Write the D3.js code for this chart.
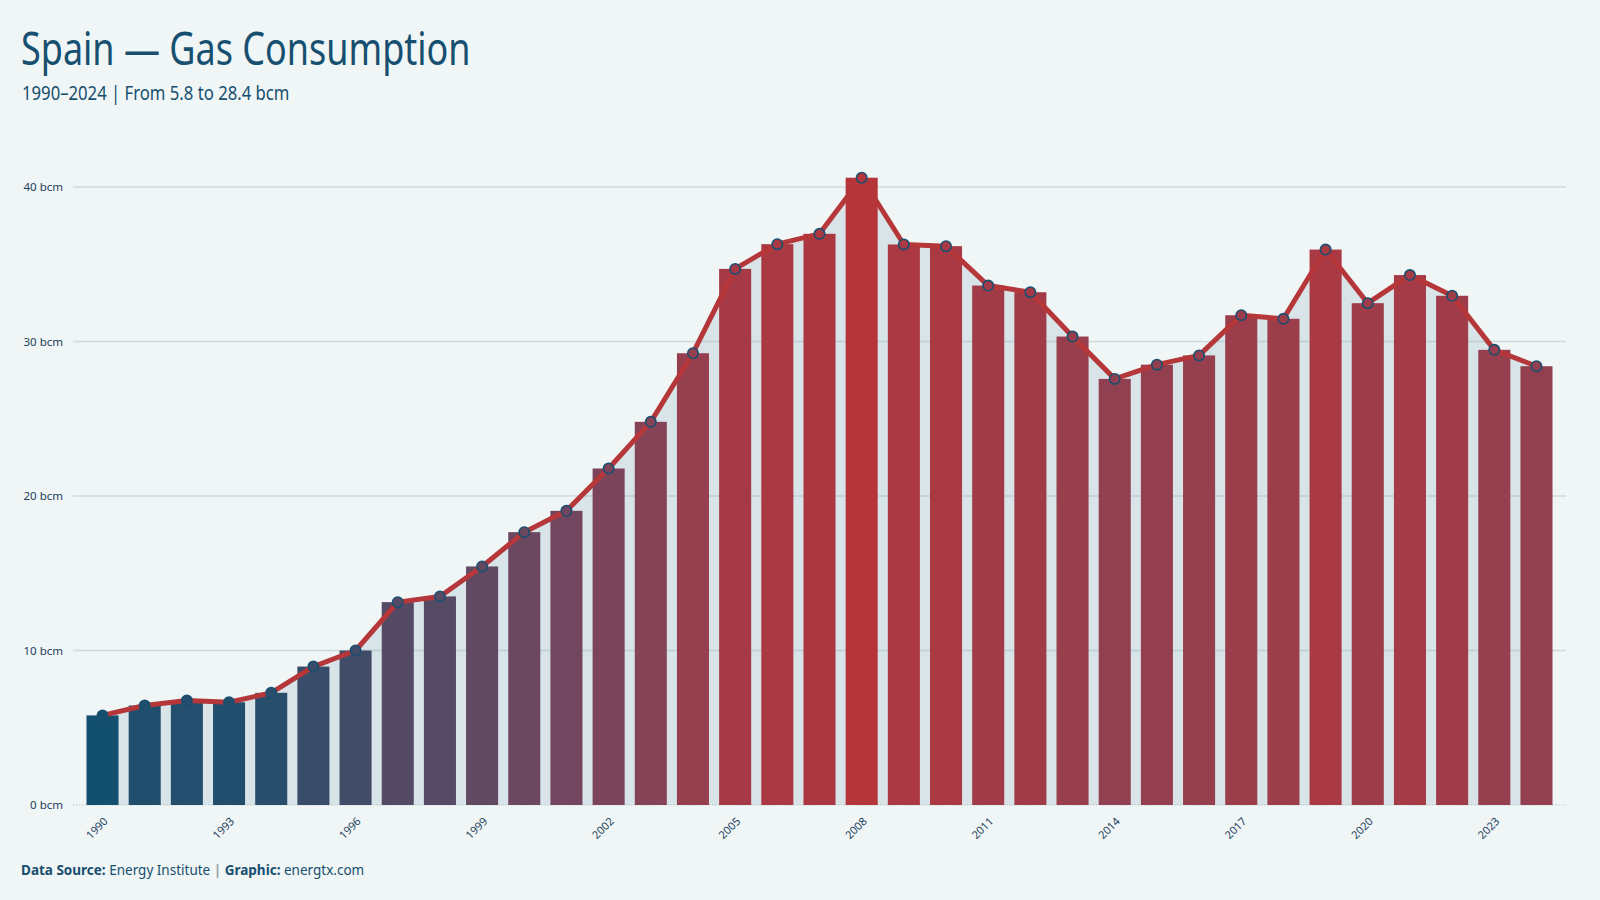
<!DOCTYPE html>
<html>
<head>
<meta charset="utf-8">
<script src="https://cdn.jsdelivr.net/npm/d3@7"></script>
<style>
  body { margin: 0; background: #f0f5f5; }
  svg { display: block; }
</style>
</head>
<body>
<div id="chart-area"></div>
<script>
// data (bcm)
var years = [1990, 1991, 1992, 1993, 1994, 1995, 1996, 1997, 1998, 1999,
             2000, 2001, 2002, 2003, 2004, 2005, 2006, 2007, 2008, 2009,
             2010, 2011, 2012, 2013, 2014, 2015, 2016, 2017, 2018, 2019,
             2020, 2021, 2022, 2023, 2024];
var consumption = [5.8, 6.44, 6.76, 6.65, 7.26, 8.96, 10.0, 13.13, 13.5, 15.44,
                   17.66, 19.04, 21.78, 24.8, 29.24, 34.7, 36.3, 36.97, 40.6, 36.28,
                   36.17, 33.62, 33.19, 30.32, 27.58, 28.5, 29.1, 31.7, 31.47, 35.95,
                   32.48, 34.3, 32.96, 29.46, 28.4];
var yTicks = [0, 10, 20, 30, 40];
var labelYears = [1990, 1993, 1996, 1999, 2002, 2005, 2008, 2011, 2014, 2017, 2020, 2023];

var data = years.map(function(y, i) { return {year: y, value: consumption[i]}; });

var W = 1600, H = 900;
var margin = {left: 73, right: 1566, top: 187, bottom: 805};

var svg = d3.select("#chart-area").append("svg")
  .attr("width", W).attr("height", H)
  .style("background", "#f0f5f5");

var x = d3.scaleBand()
  .domain(years)
  .range([margin.left, margin.right])
  .paddingInner(0.24)
  .paddingOuter(0.32);

var y = d3.scaleLinear().domain([0, 40]).range([margin.bottom, margin.top]);

var color = d3.scaleLinear()
  .domain([d3.min(consumption), d3.max(consumption)])
  .range(["#134f6e", "#b5353a"])
  .interpolate(d3.interpolateRgb.gamma(2));

var cx = function(d) { return x(d.year) + x.bandwidth() / 2; };

// area behind everything
var area = d3.area()
  .x(cx)
  .y0(y(0))
  .y1(function(d) { return y(d.value); });

svg.append("path")
  .datum(data)
  .attr("d", area)
  .attr("fill", "#d8e4e8");

// grid
var grid = svg.append("g");
grid.selectAll("line")
  .data(yTicks)
  .enter().append("line")
  .attr("x1", margin.left)
  .attr("x2", margin.right)
  .attr("y1", function(d) { return y(d); })
  .attr("y2", function(d) { return y(d); })
  .attr("stroke", "#7f9ea8")
  .attr("stroke-opacity", 0.3)
  .attr("stroke-width", 1.5)
  .attr("stroke-dasharray", function(d) { return d === 0 ? "1.5,1.5" : null; });

grid.selectAll("text")
  .data(yTicks)
  .enter().append("text")
  .attr("x", 63)
  .attr("y", function(d) { return y(d); })
  .attr("dy", "0.35em")
  .attr("text-anchor", "end")
  .attr("font-family", "'Noto Sans', 'Open Sans', sans-serif")
  .attr("font-size", "11.5px")
  .attr("fill", "#1b3f5c")
  .text(function(d) { return d + " bcm"; });

// bars
svg.selectAll("rect.bar")
  .data(data)
  .enter().append("rect")
  .attr("class", "bar")
  .attr("x", function(d) { return x(d.year); })
  .attr("width", x.bandwidth())
  .attr("y", function(d) { return y(d.value); })
  .attr("height", function(d) { return y(0) - y(d.value); })
  .attr("fill", function(d) { return color(d.value); });

// line + points
var line = d3.line().x(cx).y(function(d) { return y(d.value); });

svg.append("path")
  .datum(data)
  .attr("d", line)
  .attr("fill", "none")
  .attr("stroke", "#b5373a")
  .attr("stroke-width", 5)
  .attr("stroke-linejoin", "round");

svg.selectAll("circle")
  .data(data)
  .enter().append("circle")
  .attr("cx", cx)
  .attr("cy", function(d) { return y(d.value); })
  .attr("r", 5.2)
  .attr("fill", function(d) { return color(d.value); })
  .attr("stroke", "#1a4f70")
  .attr("stroke-width", 1.6);

// x labels
svg.append("g").selectAll("text")
  .data(labelYears)
  .enter().append("text")
  .attr("transform", function(d) {
    return "translate(" + (x(d) + x.bandwidth() / 2 + 6) + "," + 822 + ") rotate(-45)";
  })
  .attr("text-anchor", "end")
  .attr("font-family", "'Noto Sans', 'Open Sans', sans-serif")
  .attr("font-size", "11px")
  .attr("fill", "#1b3f5c")
  .text(function(d) { return d; });

// titles (no condensed face installed, so squeeze horizontally)
svg.append("text")
  .attr("transform", "translate(21,65) scale(0.80,1)")
  .attr("font-family", "'Noto Sans', sans-serif")
  .attr("font-size", "45px")
  .attr("fill", "#164f6f")
  .text("Spain \u2014 Gas Consumption");

svg.append("text")
  .attr("transform", "translate(22,100) scale(0.835,1)")
  .attr("font-family", "'Noto Sans', sans-serif")
  .attr("font-size", "20px")
  .attr("fill", "#164f6f")
  .text("1990\u20132024 | From 5.8 to 28.4 bcm");

// footer
var foot = svg.append("text")
  .attr("x", 21)
  .attr("y", 875)
  .attr("font-family", "'Noto Sans', 'Open Sans', sans-serif")
  .attr("font-size", "13.5px")
  .attr("fill", "#164f6f");
foot.append("tspan").attr("font-weight", "bold").text("Data Source:");
foot.append("tspan").text(" Energy Institute ");
foot.append("tspan").attr("fill", "#8aa0ad").attr("font-weight", "bold").text("|");
foot.append("tspan").attr("font-weight", "bold").text(" Graphic:");
foot.append("tspan").text(" energtx.com");
</script>
</body>
</html>
